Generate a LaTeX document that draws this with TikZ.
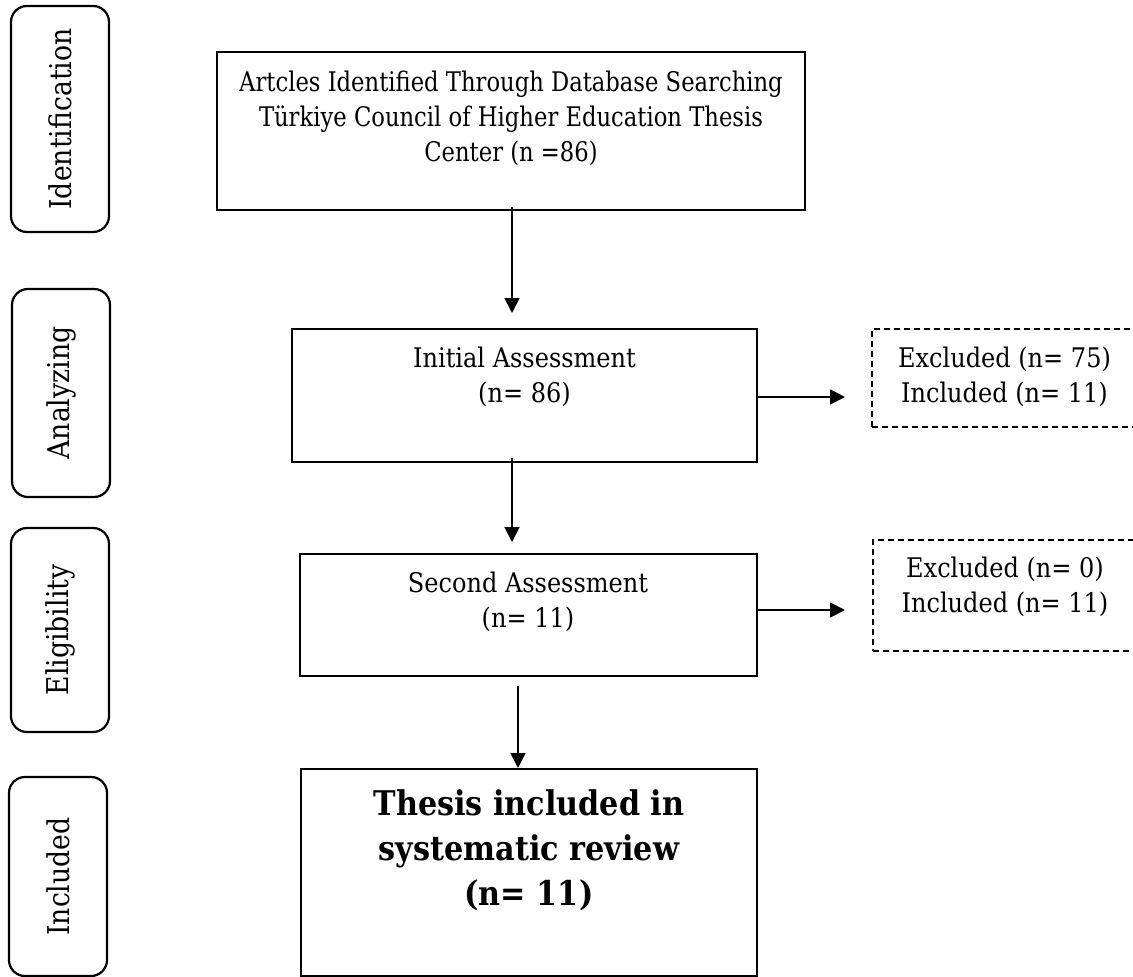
\documentclass[tikz,border=0pt]{standalone}
\usepackage{fontspec}
\setmainfont{DejaVu Serif}[FakeStretch=0.89]
\newfontfamily\narrowserif{DejaVu Serif}[FakeStretch=0.84]
\usetikzlibrary{arrows.meta}
\tikzset{
  x=1pt,y=-1pt,
  sidebox/.style={draw,line width=2.2pt,rounded corners=16pt,minimum width=98pt,inner sep=0pt},
  mainbox/.style={draw,line width=2pt,inner sep=0pt},
  dashbox/.style={draw,line width=1.6pt,dash pattern=on 6pt off 4pt,inner sep=0pt},
  txt/.style={align=center,inner sep=0pt,font=\fontsize{27}{35}\selectfont},
  boldtxt/.style={align=center,inner sep=0pt,font=\fontsize{34}{45}\selectfont\bfseries},
  sidetxt/.style={rotate=90,inner sep=0pt,font=\fontsize{30}{36}\selectfont},
  arr/.style={line width=1.8pt,-{Triangle[length=15pt,width=15pt]}},
}
\begin{document}
\begin{tikzpicture}
\useasboundingbox (0,0) rectangle (1133,977);
% side labels
\node[sidebox,minimum height=226pt] (sid) at (60,119) {};
\node[sidetxt] (sidt) at (sid.center) {Identification};
\node[sidebox,minimum height=208pt] (san) at (61,393) {};
\node[sidetxt] (sant) at (san.center) {Analyzing};
\node[sidebox,minimum height=204pt] (sel) at (60,630) {};
\node[sidetxt] (selt) at (sel.center) {Eligibility};
\node[sidebox,minimum height=199pt] (sinc) at (58,876.5) {};
\node[sidetxt] (sinct) at (sinc.center) {Included};
% main boxes
\node[mainbox,minimum width=588pt,minimum height=158pt] (top) at (511,131) {};
\node[txt,anchor=north,font=\fontsize{27}{35}\selectfont\narrowserif] (topt) at (511,71) {Artcles Identified Through Database Searching\\Türkiye Council of Higher Education Thesis\\Center (n =86)};
\node[mainbox,minimum width=465pt,minimum height=133pt] (ini) at (524.5,395.5) {};
\node[txt,anchor=north] (init) at (524.5,347) {Initial Assessment\\(n= 86)};
\node[mainbox,minimum width=457pt,minimum height=122pt] (sec) at (528,615) {};
\node[txt,anchor=north] (sect) at (528,572) {Second Assessment\\(n= 11)};
\node[mainbox,minimum width=456pt,minimum height=207pt] (fin) at (529,872.5) {};
\node[boldtxt,anchor=north] (fint) at (529,789) {Thesis included in\\systematic review\\(n= 11)};
% dashed boxes
\node[dashbox,minimum width=270pt,minimum height=98pt] (ex1) at (1007,378) {};
\node[txt,anchor=north] (ex1t) at (1004.5,347) {Excluded (n= 75)\\Included (n= 11)};
\node[dashbox,minimum width=270pt,minimum height=111pt] (ex2) at (1008,595.5) {};
\node[txt,anchor=north] (ex2t) at (1005,557) {Excluded (n= 0)\\Included (n= 11)};
% arrows
\coordinate (a1s) at (512,207);
\coordinate (a1e) at (512,313);
\draw[arr] (a1s) -- (a1e);
\coordinate (a2s) at (512,458);
\coordinate (a2e) at (512,542);
\draw[arr] (a2s) -- (a2e);
\coordinate (a3s) at (518,686);
\draw[arr] (a3s) -- (fin.north -| a3s);
\coordinate (h1e) at (845,397);
\coordinate (h2e) at (845,610);
\draw[arr] (ini.east |- h1e) -- (h1e);
\draw[arr] (sec.east |- h2e) -- (h2e);
\end{tikzpicture}
\end{document}
